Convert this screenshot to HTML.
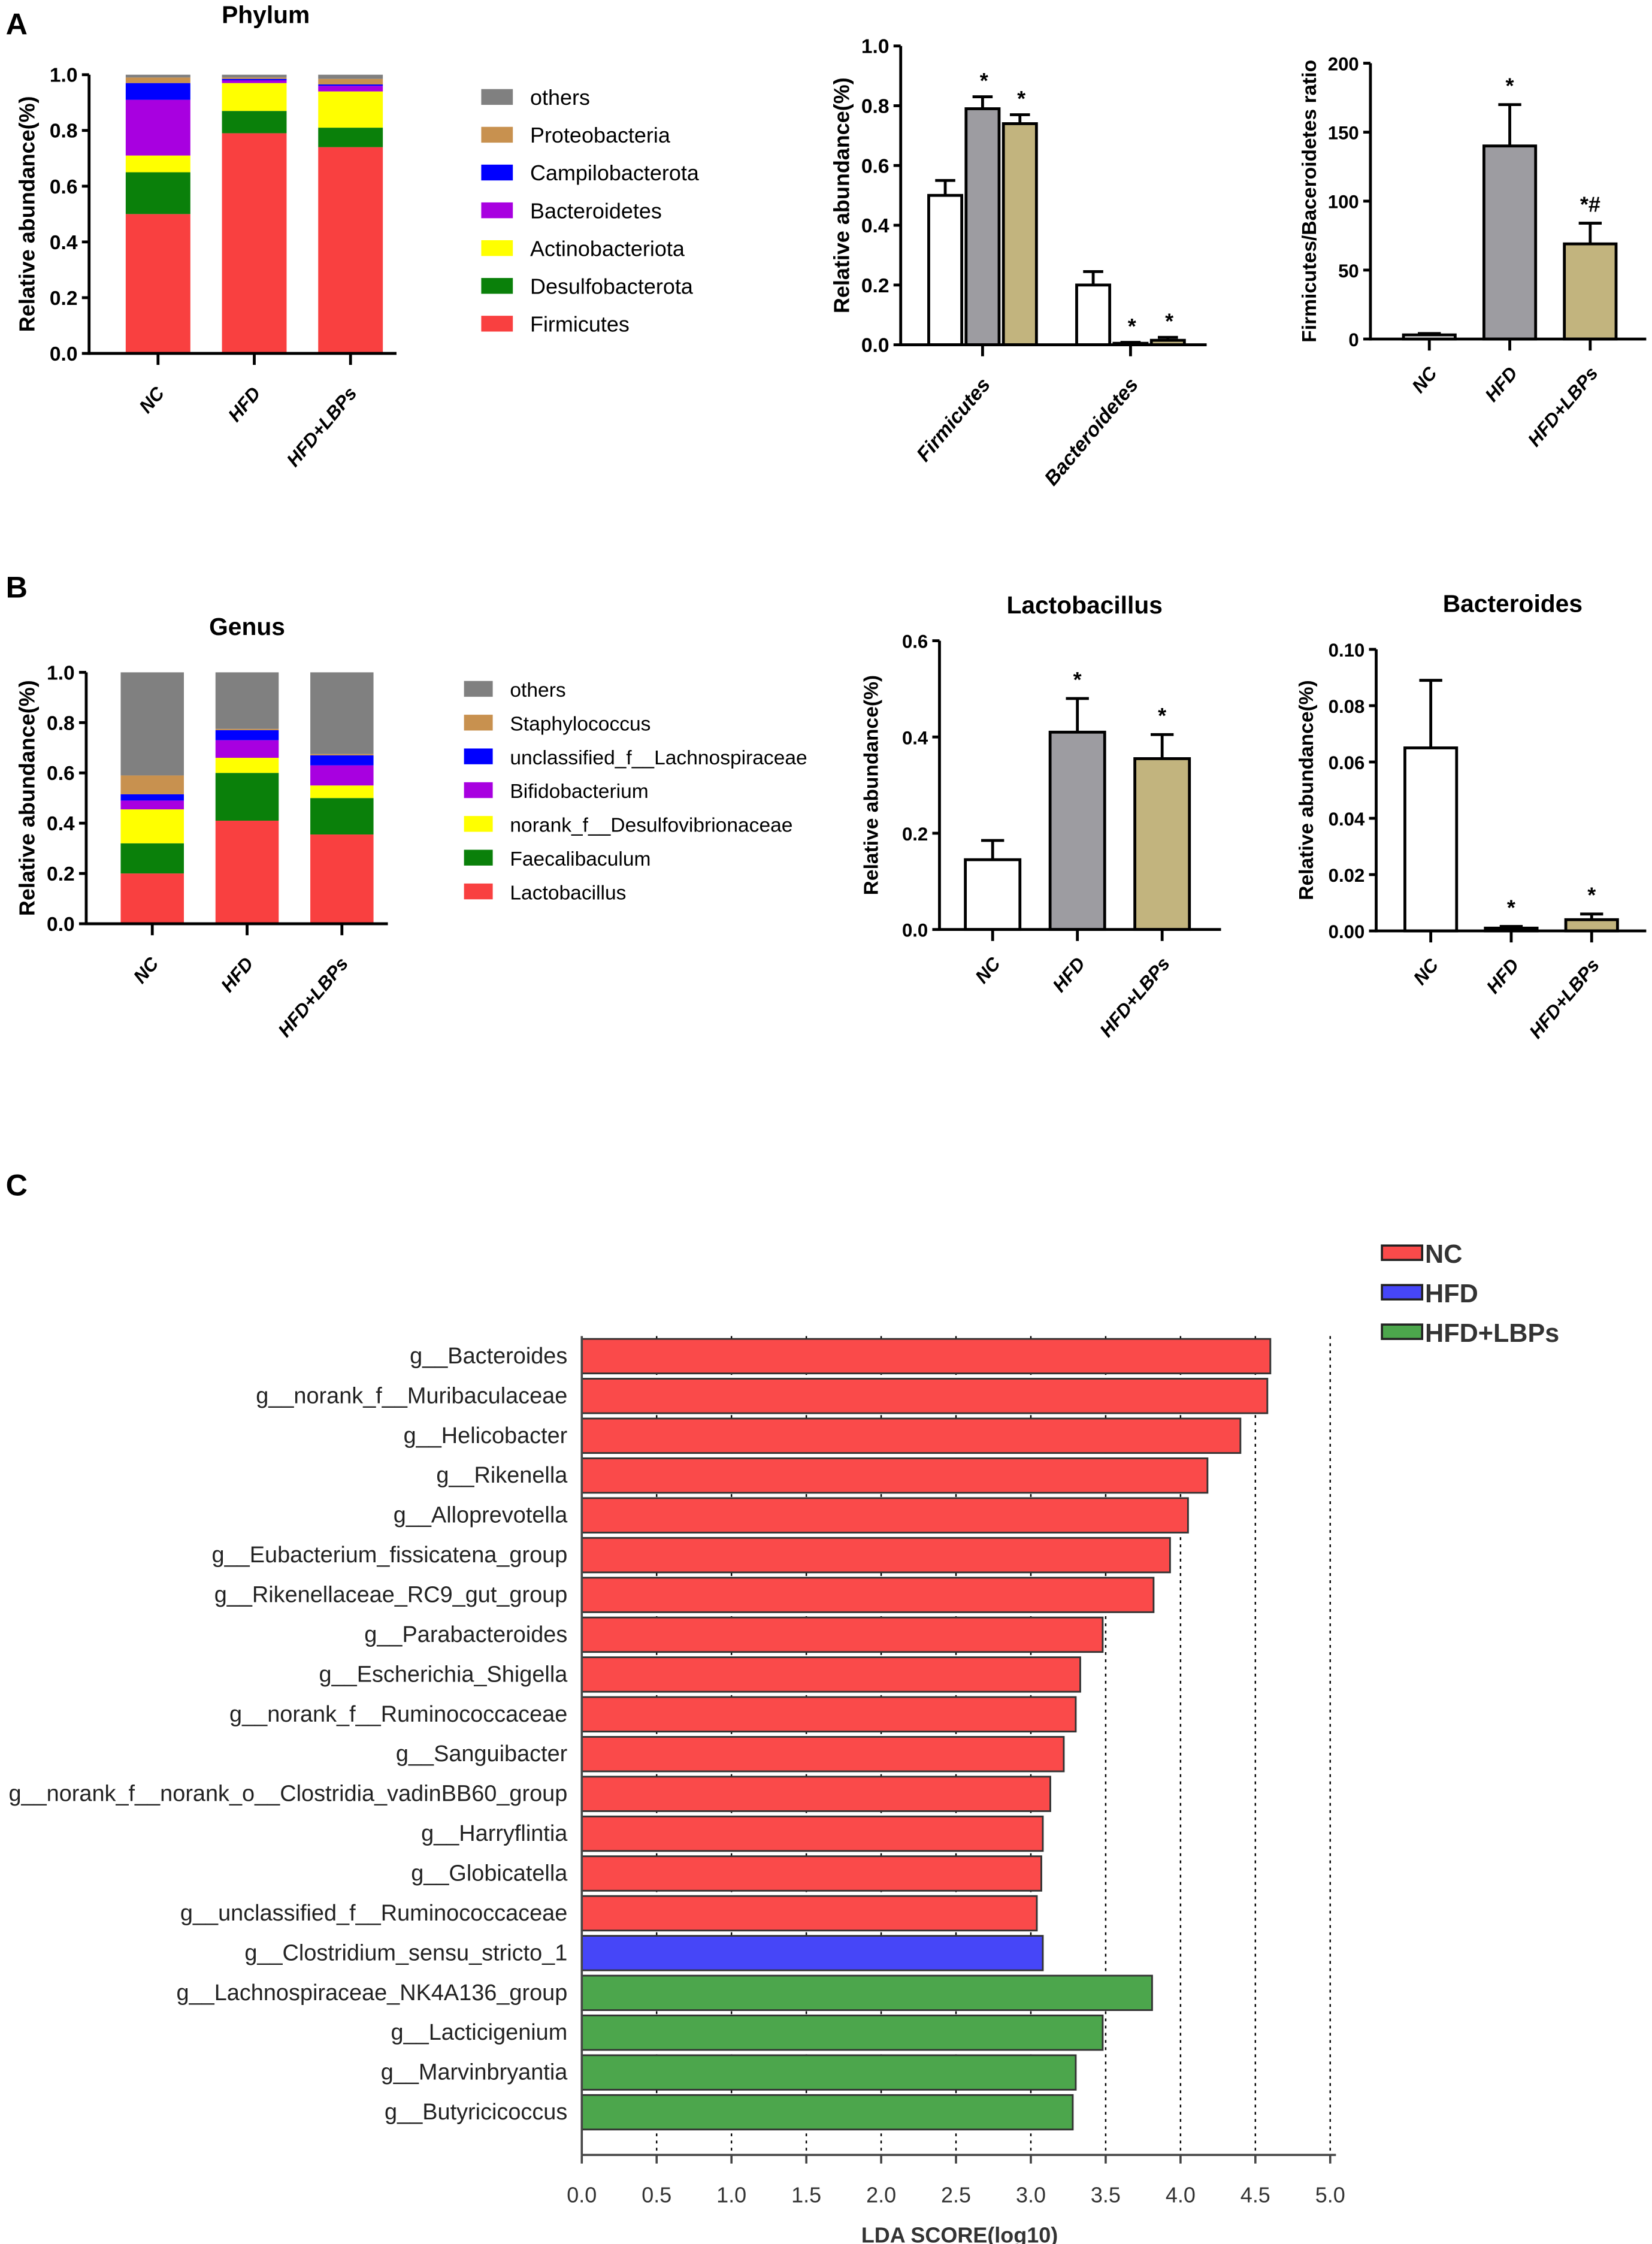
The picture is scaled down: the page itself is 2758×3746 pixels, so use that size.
<!DOCTYPE html>
<html><head><meta charset="utf-8"><style>
html,body{margin:0;padding:0;background:#fff}
svg{display:block;font-family:"Liberation Sans",Arial,sans-serif}
</style></head><body>
<svg id="fig" xmlns="http://www.w3.org/2000/svg" width="2758" height="3746" viewBox="0 0 1150 1562"></svg>
<script>
// ---------- DATA ----------
const groups = ["NC","HFD","HFD+LBPs"];
const phylumNames = ["Firmicutes","Desulfobacterota","Actinobacteriota","Bacteroidetes","Campilobacterota","Proteobacteria","others"];
const phylumColors = ["#f94040","#0a800a","#ffff00","#a800e0","#0000ff","#c8914f","#808080"];
const phylumNC = [0.50,0.15,0.06,0.20,0.06,0.02,0.01];
const phylumHFD = [0.79,0.08,0.10,0.01,0.005,0.005,0.01];
const phylumLBP = [0.74,0.07,0.13,0.02,0.005,0.02,0.015];
const phyCats = ["Firmicutes","Bacteroidetes"];
const phyMeans = [[0.50,0.79,0.74],[0.20,0.005,0.015]];
const phyErr = [[0.05,0.04,0.03],[0.045,0.003,0.01]];
const ratioMeans = [3,140,69];
const ratioErr = [1,30,15];
const ratioMarks = ["","*","*#"];
const genusNames = ["Lactobacillus","Faecalibaculum","norank_f__Desulfovibrionaceae","Bifidobacterium","unclassified_f__Lachnospiraceae","Staphylococcus","others"];
const genusColors = ["#f94040","#0a800a","#ffff00","#a800e0","#0000ff","#c8914f","#808080"];
const genusNC = [0.20,0.12,0.135,0.035,0.025,0.075,0.41];
const genusHFD = [0.41,0.19,0.06,0.07,0.04,0.005,0.225];
const genusLBP = [0.355,0.145,0.05,0.08,0.04,0.005,0.325];
const lactoMeans = [0.145,0.41,0.355];
const lactoErr = [0.04,0.07,0.05];
const bacMeans = [0.065,0.001,0.004];
const bacErr = [0.024,0.0006,0.002];
const ldaNames = ["g__Bacteroides","g__norank_f__Muribaculaceae","g__Helicobacter","g__Rikenella","g__Alloprevotella","g__Eubacterium_fissicatena_group","g__Rikenellaceae_RC9_gut_group","g__Parabacteroides","g__Escherichia_Shigella","g__norank_f__Ruminococcaceae","g__Sanguibacter","g__norank_f__norank_o__Clostridia_vadinBB60_group","g__Harryflintia","g__Globicatella","g__unclassified_f__Ruminococcaceae","g__Clostridium_sensu_stricto_1","g__Lachnospiraceae_NK4A136_group","g__Lacticigenium","g__Marvinbryantia","g__Butyricicoccus"];
const ldaScores = [4.60,4.58,4.40,4.18,4.05,3.93,3.82,3.48,3.33,3.30,3.22,3.13,3.08,3.07,3.04,3.08,3.81,3.48,3.30,3.28];
const ldaGroup = ["NC","NC","NC","NC","NC","NC","NC","NC","NC","NC","NC","NC","NC","NC","NC","HFD","HFD+LBPs","HFD+LBPs","HFD+LBPs","HFD+LBPs"];
const ldaTicks = [0,0.5,1,1.5,2,2.5,3,3.5,4,4.5,5];

// ---------- HELPERS ----------
const NS="http://www.w3.org/2000/svg";
const svg=document.getElementById('fig');
function mk(tag,attrs,parent){const e=document.createElementNS(NS,tag);for(const k in attrs)e.setAttribute(k,attrs[k]);(parent||svg).appendChild(e);return e;}
function txt(s,attrs,parent){const e=mk('text',attrs,parent);e.textContent=s;return e;}
function lin(d0,d1,r0,r1){return v=>r0+(v-d0)/(d1-d0)*(r1-r0);}

[["A",4,24],["B",4,416],["C",4,832]].forEach(p=>{
  const t=txt(p[0],{x:p[1],y:p[2],'font-size':21,'font-weight':'bold'});
  
  
});

function yAxis(g,x,y0,y1,ticks,fmt,fs){
  const ax=mk('line',{x1:x,y1:y0+1,x2:x,y2:y1,stroke:'#000','stroke-width':2},g);
  
  
  const y=lin(ticks[0],ticks[ticks.length-1],y0,y1);
  ticks.forEach(v=>{
    const tk=mk('line',{x1:x-5,y1:y(v),x2:x,y2:y(v),stroke:'#000','stroke-width':2},g);
    
    
    const tl=txt(fmt(v),{x:x-8,y:y(v)+5,'font-size':fs,'font-weight':'bold','text-anchor':'end'},g);
    
    
  });
  return y;
}
function xAxis(g,x0,x1,y0,tickXs){
  const ax=mk('line',{x1:x0,y1:y0,x2:x1,y2:y0,stroke:'#000','stroke-width':2},g);
  
  
  tickXs.forEach(x=>{
    const tk=mk('line',{x1:x,y1:y0,x2:x,y2:y0+8,stroke:'#000','stroke-width':2},g);
    
    
  });
}
function rotLabel(g,s,x,y,fs){
  const t=txt(s,{x:x,y:y,'font-size':fs,'font-weight':'bold','font-style':'italic','text-anchor':'end',transform:`rotate(-50 ${x} ${y})`},g);
  
  
}
function yTitle(g,s,x,y,fs){
  const t=txt(s,{x:x,y:y,'font-size':fs,'font-weight':'bold','text-anchor':'middle',transform:`rotate(-90 ${x} ${y})`},g);
  
  
}
function title(g,s,x,y,fs){
  const t=txt(s,{x:x,y:y,'font-size':fs,'font-weight':'bold','text-anchor':'middle'},g);
  
  
}

function stacked(name,cfg,series,names,colors){
  const g=mk('g',{});
  
  
  title(g,cfg.title,cfg.titleX,cfg.titleY,17);
  yTitle(g,'Relative abundance(%)',cfg.yTitleX,(cfg.y0+cfg.y1)/2,15);
  const y=yAxis(g,cfg.ax,cfg.y0,cfg.y1,[0,0.2,0.4,0.6,0.8,1.0],v=>v.toFixed(1),14);
  const centers=[];
  series.forEach((vals,i)=>{
    const cx=cfg.c0+i*cfg.step;centers.push(cx);
    let acc=0;
    vals.forEach((v,j)=>{
      const r=mk('rect',{x:cx-cfg.bw/2,y:y(acc+v),width:cfg.bw,height:Math.max(0,y(acc)-y(acc+v)),fill:colors[j]},g);
      
      
      acc+=v;
    });
    rotLabel(g,groups[i],cx+5,cfg.y0+28,13);
  });
  xAxis(g,cfg.ax,cfg.xEnd,cfg.y0,centers);
  for(let j=names.length-1;j>=0;j--){
    const k=names.length-1-j;
    const ly=cfg.legY+k*cfg.legStep;
    const sw=mk('rect',{x:cfg.legX,y:ly-6,width:cfg.legW,height:11,fill:colors[j]},g);
    
    
    const lt=txt(names[j],{x:cfg.legX+cfg.legW+12,y:ly+5,'font-size':cfg.legFs},g);
    
    
  }
}
stacked('phylum-stacked-chart',{title:'Phylum',titleX:185,titleY:16,yTitleX:24,ax:62,y0:246,y1:52,c0:110,step:67,bw:45,xEnd:276,legX:335,legW:22,legY:68,legStep:26.3,legFs:15},[phylumNC,phylumHFD,phylumLBP],phylumNames,phylumColors);
stacked('genus-stacked-chart',{title:'Genus',titleX:172,titleY:442,yTitleX:24,ax:60,y0:643,y1:468,c0:106,step:66,bw:44,xEnd:270,legX:323,legW:20,legY:480,legStep:23.5,legFs:14},[genusNC,genusHFD,genusLBP],genusNames,genusColors);

const barFill=["#ffffff","#9d9ca1","#c2b47e"];
function errBar(g,cx,y,m,e,w,nm){
  const l=mk('line',{x1:cx,y1:y(m),x2:cx,y2:y(m+e),stroke:'#000','stroke-width':2},g);
  
  
  const c=mk('line',{x1:cx-w,y1:y(m+e),x2:cx+w,y2:y(m+e),stroke:'#000','stroke-width':2},g);
  
  
}
function bar(g,x,w,y,m,fill,nm){
  const r=mk('rect',{x:x,y:y(m),width:w,height:Math.max(0.5,y(0)-y(m)),fill:fill,stroke:'#000','stroke-width':2},g);
  
  
}
function star(g,s,x,yy){
  const t=txt(s,{x:x,y:yy,'font-size':15,'font-weight':'bold','text-anchor':'middle'},g);
  
  
}

(function(){
  const g=mk('g',{});
  
  
  yTitle(g,'Relative abundance(%)',591,136,15);
  const y=yAxis(g,627,240,32,[0,0.2,0.4,0.6,0.8,1.0],v=>v.toFixed(1),14);
  const gc=[684,787],bw=23,off=[-26,0,26];
  phyCats.forEach((c,i)=>{
    groups.forEach((gr,k)=>{
      const cx=gc[i]+off[k];
      errBar(g,cx,y,phyMeans[i][k],phyErr[i][k],7,'phylum-'+c.toLowerCase()+'-'+gr.toLowerCase());
      bar(g,cx-bw/2,bw,y,phyMeans[i][k],barFill[k],'bar-'+c.toLowerCase()+'-'+gr.toLowerCase().replace('+','-'));
      if(k>0) star(g,'*',cx+1,y(phyMeans[i][k]+phyErr[i][k])-6);
    });
    rotLabel(g,c,gc[i]+6,268,14);
  });
  xAxis(g,627,840,240,gc);
})();

function simpleBar(name,cfg,means,errs,marks){
  const g=mk('g',{});
  
  
  if(cfg.title) title(g,cfg.title,cfg.titleX,cfg.titleY,17);
  yTitle(g,cfg.ylabel,cfg.yTitleX,(cfg.y0+cfg.y1)/2,14);
  const y=yAxis(g,cfg.ax,cfg.y0,cfg.y1,cfg.ticks,cfg.fmt,13);
  const cs=[];
  means.forEach((m,i)=>{
    const cx=cfg.c0+i*cfg.step;cs.push(cx);
    errBar(g,cx,y,m,errs[i],8,name+'-'+groups[i].toLowerCase());
    bar(g,cx-cfg.bw/2,cfg.bw,y,m,barFill[i],'bar-'+groups[i].toLowerCase().replace('+','-'));
    if(marks[i]) star(g,marks[i],cx,y(m+errs[i])-8);
    rotLabel(g,groups[i],cx+6,cfg.y0+24,13);
  });
  xAxis(g,cfg.ax,cfg.xEnd,cfg.y0,cs);
}
simpleBar('firmicutes-bacteroidetes-ratio-chart',{ylabel:'Firmicutes/Baceroidetes ratio',yTitleX:916,ax:954,y0:236,y1:44,ticks:[0,50,100,150,200],fmt:v=>String(v),c0:995,step:56,bw:36,xEnd:1146},ratioMeans,ratioErr,ratioMarks);
simpleBar('lactobacillus-chart',{title:'Lactobacillus',titleX:755,titleY:427,ylabel:'Relative abundance(%)',yTitleX:611,ax:654,y0:647,y1:446,ticks:[0,0.2,0.4,0.6],fmt:v=>v.toFixed(1),c0:691,step:59,bw:38,xEnd:850},lactoMeans,lactoErr,["","*","*"]);
simpleBar('bacteroides-chart',{title:'Bacteroides',titleX:1053,titleY:426,ylabel:'Relative abundance(%)',yTitleX:914,ax:958,y0:648,y1:452,ticks:[0,0.02,0.04,0.06,0.08,0.10],fmt:v=>v.toFixed(2),c0:996,step:56,bw:36,xEnd:1146},bacMeans,bacErr,["","*","*"]);

(function(){
  const g=mk('g',{});
  
  
  const x=lin(0,5,405,926);
  const rowY=i=>944+i*27.7;
  const col={"NC":"#fa4a4a","HFD":"#4646f8","HFD+LBPs":"#4ca64c"};
  ldaTicks.forEach(t=>{
    if(t>0){
      const gl=mk('line',{x1:x(t),y1:930,x2:x(t),y2:1500,stroke:'#000','stroke-width':1,'stroke-dasharray':'2,3'},g);
      
      
    }
  });
  ldaNames.forEach((n,i)=>{
    const r=mk('rect',{x:x(0),y:rowY(i)-12,width:x(ldaScores[i])-x(0),height:24,fill:col[ldaGroup[i]],stroke:'#333','stroke-width':1.2},g);
    
    
    const t=txt(n,{x:395,y:rowY(i)+5,'font-size':15.8,'text-anchor':'end',fill:'#222'},g);
    
    
  });
  const ya=mk('line',{x1:405,y1:930,x2:405,y2:1500,stroke:'#444','stroke-width':1.5},g);
  
  
  const xa=mk('line',{x1:405,y1:1500,x2:930,y2:1500,stroke:'#444','stroke-width':1.5},g);
  
  
  ldaTicks.forEach(t=>{
    const tk=mk('line',{x1:x(t),y1:1500,x2:x(t),y2:1506,stroke:'#444','stroke-width':1.5},g);
    
    
    const tl=txt(t.toFixed(1),{x:x(t),y:1533,'font-size':15,'text-anchor':'middle',fill:'#333'},g);
    
    
  });
  const xt=txt('LDA SCORE(log10)',{x:668,y:1561,'font-size':15,'font-weight':'bold','text-anchor':'middle',fill:'#333'},g);
  
  
  groups.forEach((gr,i)=>{
    const ly=872+i*27.5;
    const sw=mk('rect',{x:962,y:ly-5,width:28,height:10,fill:col[gr],stroke:'#222','stroke-width':1.5},g);
    
    
    const lt=txt(gr,{x:992,y:ly+7,'font-size':18,'font-weight':'bold',fill:'#333'},g);
    
    
  });
})();
</script>
</body></html>
